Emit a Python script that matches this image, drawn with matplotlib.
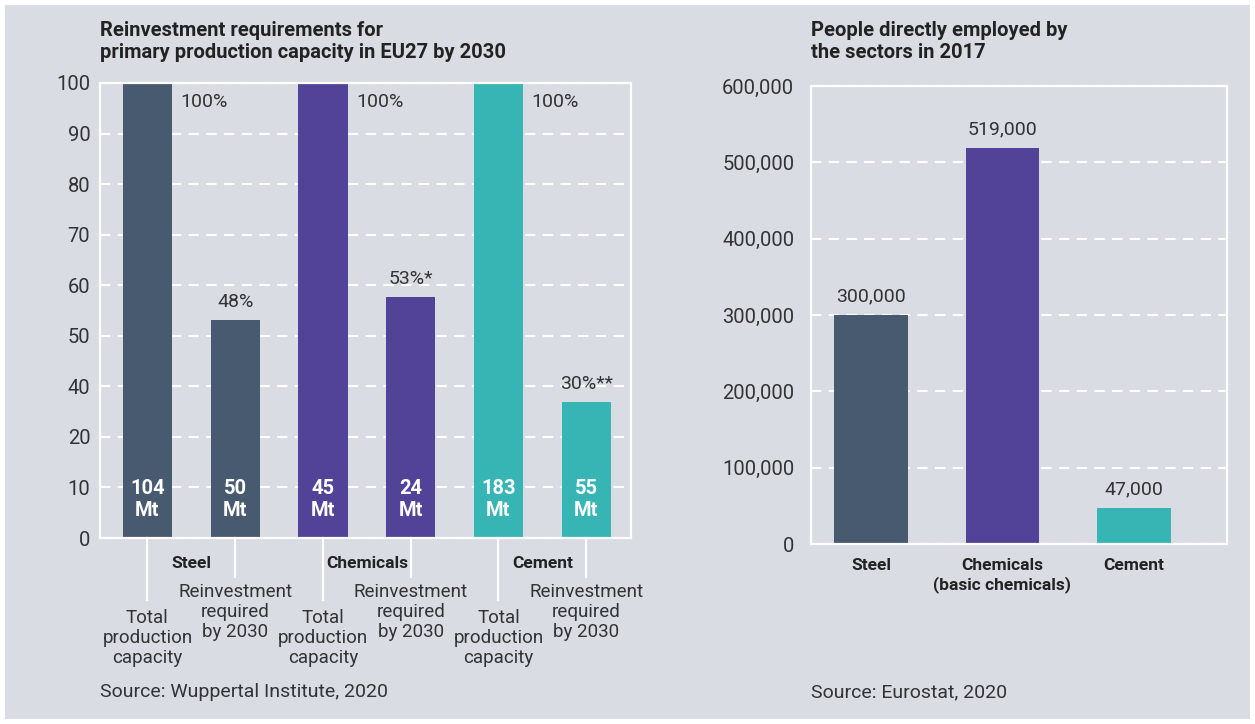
import matplotlib
matplotlib.use("Agg")
import matplotlib.pyplot as plt
import matplotlib.transforms as mtransforms
from matplotlib.patches import Rectangle
import numpy as np

plt.rcParams['font.family'] = ['Roboto', 'DejaVu Sans']

# left chart data
left_categories = ["Steel", "Chemicals", "Cement"]
left_bar_names = ["Total\nproduction\ncapacity", "Reinvestment\nrequired\nby 2030"] * 3
left_values = [100, 48, 100, 53, 100, 30]
left_pct_labels = ["100%", "48%", "100%", "53%*", "100%", "30%**"]
left_mt_labels = ["104", "50", "45", "24", "183", "55"]
left_ytick_labels = ["0", "10", "20", "40", "50", "60", "70", "80", "90", "100"]

# right chart data
right_categories = ["Steel", "Chemicals\n(basic chemicals)", "Cement"]
right_values = [300000, 519000, 47000]
right_labels = ["300,000", "519,000", "47,000"]
right_yticks = [0, 100000, 200000, 300000, 400000, 500000, 600000]

colors = ["#485a70", "#524399", "#36b5b4"]
bg = "#d9dce3"
txt = "#333333"
W, H = 1255, 724

fig = plt.figure(figsize=(W / 100, H / 100), dpi=100, facecolor="white")
fig.patches.append(Rectangle((5 / W, 5 / H), 1245 / W, 714 / H, transform=fig.transFigure,
                             facecolor=bg, edgecolor="none", zorder=-10))


def px_axes(x0, y0, x1, y1):
    return fig.add_axes([x0 / W, 1 - y1 / H, (x1 - x0) / W, (y1 - y0) / H])


def style(ax):
    ax.set_facecolor(bg)
    for s in ax.spines.values():
        s.set_color("white")
        s.set_linewidth(1.6)
    ax.set_axisbelow(True)
    ax.yaxis.grid(True, color="white", linewidth=1.5, linestyle=(0, (5, 3.5)))
    ax.tick_params(length=0, colors=txt, labelsize=14.5)


# ---- left chart ----
ax1 = px_axes(100, 83, 631, 538)
style(ax1)
xs = np.arange(len(left_values))
bcolors = [colors[i // 2] for i in xs]
w = 0.56
ax1.bar(xs, left_values, width=w, color=bcolors, zorder=2)
ax1.set_xlim(-0.54, 5.51)
ax1.set_ylim(0, 100)
ax1.set_yticks(np.linspace(0, 100, len(left_ytick_labels)))
ax1.set_yticklabels(left_ytick_labels)
ax1.tick_params(axis="y", pad=7)
ax1.set_xticks([])

for x, v, lab, mt in zip(xs, left_values, left_pct_labels, left_mt_labels):
    if v >= 100:
        ax1.annotate(lab, (x + w / 2, v), xytext=(6, -14), textcoords="offset points",
                     ha="left", va="center", fontsize=14, color=txt)
    else:
        ax1.annotate(lab, (x, v), xytext=(0, 9), textcoords="offset points",
                     ha="center", va="baseline", fontsize=14, color=txt)
    ax1.text(x, 8.4, mt + "\nMt", ha="center", va="center", color="white",
             fontsize=14.5, fontweight="bold", linespacing=1.18)

trans = mtransforms.blended_transform_factory(ax1.transData, ax1.transAxes)
for x, name in zip(xs, left_bar_names):
    total = x % 2 == 0
    yend = -62 / 455 if total else -39 / 455
    ax1.plot([x, x], [0, yend], color="white", linewidth=1.6, transform=trans, clip_on=False)
    ytop = -71 / 455 if total else -45 / 455
    ax1.text(x, ytop, name, transform=trans, ha="center", va="top", fontsize=13.5,
             color=txt, linespacing=1.13)
for i, cat in enumerate(left_categories):
    ax1.text(2 * i + 0.5, -25 / 455, cat, transform=trans, ha="center", va="center",
             fontsize=12.5, fontweight="bold", color="#222222")

fig.text(100 / W, 1 - 42 / H, "Reinvestment requirements for\nprimary production capacity in EU27 by 2030",
         ha="left", va="center", fontsize=14.5, fontweight="bold", color="#222222", linespacing=1.2)
fig.text(100 / W, 1 - 692 / H, "Source: Wuppertal Institute, 2020", ha="left", va="center",
         fontsize=14, color=txt)

# ---- right chart ----
ax2 = px_axes(811, 86, 1227, 544)
style(ax2)
rx = np.arange(len(right_values))
ax2.bar(rx, right_values, width=0.56, color=colors, zorder=2)
ax2.set_xlim(-0.456, 2.707)
ax2.set_ylim(0, 600000)
ax2.set_yticks(right_yticks)
ax2.set_yticklabels([f"{v:,}" for v in right_yticks])
ax2.tick_params(axis="y", pad=12)
ax2.set_xticks(rx)
ax2.set_xticklabels(right_categories, fontsize=12.5, fontweight="bold", color="#222222",
                    linespacing=1.25)
ax2.tick_params(axis="x", pad=10)
for x, v, lab in zip(rx, right_values, right_labels):
    ax2.annotate(lab, (x, v), xytext=(0, 10), textcoords="offset points",
                 ha="center", va="baseline", fontsize=14, color=txt)

fig.text(811 / W, 1 - 42 / H, "People directly employed by\nthe sectors in 2017",
         ha="left", va="center", fontsize=14.5, fontweight="bold", color="#222222", linespacing=1.2)
fig.text(811 / W, 1 - 692 / H, "Source: Eurostat, 2020", ha="left", va="center",
         fontsize=14, color=txt)

fig.savefig("out.png", dpi=100, facecolor="white")
